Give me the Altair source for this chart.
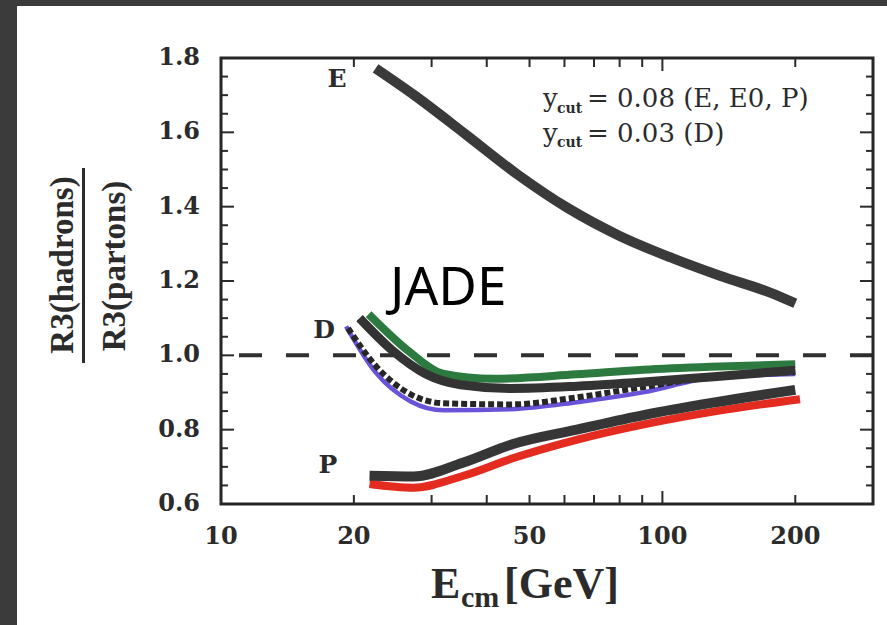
import altair as alt
import pandas as pd

W, H = 652, 446
INK = "#2b2b2b"

# ---------------- data ----------------
e_x = [22.4, 27.4, 35.8, 46.8, 61.1, 79.8, 104.0, 135.0, 176.0, 200.0]
e_y = [1.772, 1.700, 1.595, 1.488, 1.396, 1.322, 1.264, 1.214, 1.168, 1.140]

d_black_x = [20.6, 24.4, 29.1, 34.9, 45.3, 64.0, 90.7, 128.6, 200.0]
d_black_y = [1.100, 1.014, 0.950, 0.921, 0.911, 0.917, 0.928, 0.942, 0.960]

d_green_x = [21.6, 26.7, 31.8, 41.4, 63.8, 90.5, 128.5, 200.0]
d_green_y = [1.111, 1.010, 0.951, 0.937, 0.949, 0.961, 0.969, 0.976]

d_dot_x = [19.4, 22.4, 26.9, 32.0, 45.4, 64.1, 90.8, 124.1, 200.0]
d_dot_y = [1.073, 0.972, 0.895, 0.871, 0.868, 0.887, 0.915, 0.939, 0.955]

d_blue_x = [19.2, 22.4, 26.9, 32.0, 45.4, 64.1, 90.9, 128.6, 200.0]
d_blue_y = [1.078, 0.954, 0.876, 0.852, 0.855, 0.874, 0.901, 0.939, 0.950]

p_black_x = [21.7, 27.3, 35.3, 45.7, 64.4, 91.2, 129.2, 200.0]
p_black_y = [0.676, 0.674, 0.711, 0.761, 0.801, 0.840, 0.872, 0.907]

p_red_x = [21.7, 27.3, 35.4, 45.8, 64.5, 91.4, 129.4, 205.0]
p_red_y = [0.654, 0.644, 0.676, 0.723, 0.774, 0.815, 0.848, 0.882]

ref_level = [1.0]

x_labels = [10, 20, 50, 100, 200]
y_labels = [0.6, 0.8, 1.0, 1.2, 1.4, 1.6, 1.8]
x_ticks = [20, 30, 40, 50, 60, 70, 80, 90, 200]
x_ticks_long = [100]
y_ticks_major = [0.8, 1.0, 1.2, 1.4, 1.6]
y_ticks_minor = [0.65, 0.7, 0.75, 0.85, 0.9, 0.95, 1.05, 1.1, 1.15, 1.25,
                 1.3, 1.35, 1.45, 1.5, 1.55, 1.65, 1.7, 1.75]

# ---------------- scales ----------------
XS = alt.Scale(type="log", domain=[10, 300], nice=False)
YS = alt.Scale(domain=[0.6, 1.8], nice=False, zero=False)

one = pd.DataFrame({"k": [0]})


def df(xs, ys):
    return pd.DataFrame({"E": xs, "R": ys})


def curve(xs, ys, color, width, dash=None, cap="butt"):
    kw = dict(interpolate="monotone", color=color, strokeWidth=width,
              strokeCap=cap, strokeJoin="round")
    if dash:
        kw["strokeDash"] = dash
    return alt.Chart(df(xs, ys)).mark_line(**kw).encode(
        x=alt.X("E:Q", scale=XS, axis=None),
        y=alt.Y("R:Q", scale=YS, axis=None),
    )


def yticks(vals, length, right=False):
    x0 = W if right else 0
    x1 = W - length if right else length
    return alt.Chart(pd.DataFrame({"v": vals})).mark_rule(color=INK, strokeWidth=2).encode(
        y=alt.Y("v:Q", scale=YS, axis=None), x=alt.value(x0), x2=alt.value(x1))


def xticks(vals, length, top=False):
    y0 = 0 if top else H
    y1 = length if top else H - length
    return alt.Chart(pd.DataFrame({"v": vals})).mark_rule(color=INK, strokeWidth=2).encode(
        x=alt.X("v:Q", scale=XS, axis=None), y=alt.value(y0), y2=alt.value(y1))


def label(text, x, y, size, font="DejaVu Serif", weight="bold", align="left",
          baseline="alphabetic", angle=0, color=INK):
    kw = dict(text=text, font=font, fontSize=size, fontWeight=weight,
              align=align, baseline=baseline, color=color)
    if angle:
        kw["angle"] = angle
    return alt.Chart(one).mark_text(**kw).encode(x=alt.value(x), y=alt.value(y))


tick_font = dict(font="DejaVu Serif", fontWeight="bold", fontSize=24, color=INK)

y_tick_labels = alt.Chart(pd.DataFrame({"v": y_labels})).mark_text(
    align="right", baseline="middle", **tick_font).encode(
    y=alt.Y("v:Q", scale=YS, axis=None), x=alt.value(-21),
    text=alt.Text("v:Q", format=".1f"))

x_tick_labels = alt.Chart(pd.DataFrame({"v": x_labels})).mark_text(
    align="center", baseline="top", **tick_font).encode(
    x=alt.X("v:Q", scale=XS, axis=None), y=alt.value(H + 21),
    text=alt.Text("v:Q", format="d"))

paper = alt.Chart(one).mark_rect(color="white").encode(
    x=alt.value(-204), x2=alt.value(666), y=alt.value(-52), y2=alt.value(567))

dashed = alt.Chart(pd.DataFrame({"R": ref_level})).mark_rule(
    color="#303030", strokeWidth=4, strokeDash=[23, 24]).encode(
    y=alt.Y("R:Q", scale=YS, axis=None))

frame = alt.Chart(one).mark_rect(fillOpacity=0, stroke="#262626", strokeWidth=3).encode(
    x=alt.value(0), x2=alt.value(W), y=alt.value(0), y2=alt.value(H))

jade_box = alt.Chart(one).mark_rect(color="white").encode(
    x=alt.value(157), x2=alt.value(297), y=alt.value(197), y2=alt.value(259))

layers = [
    paper,
    dashed,
    yticks(y_ticks_minor, 7), yticks(y_ticks_major, 13),
    yticks(y_ticks_minor, 7, right=True), yticks(y_ticks_major, 13, right=True),
    xticks(x_ticks, 9), xticks(x_ticks_long, 13),
    xticks(x_ticks, 9, top=True), xticks(x_ticks_long, 13, top=True),
    curve(d_blue_x, d_blue_y, "#6a52d9", 4.5),
    curve(d_dot_x, d_dot_y, "#262626", 6, dash=[6, 3]),
    curve(d_green_x, d_green_y, "#2c7a40", 8),
    curve(d_black_x, d_black_y, "#333333", 9),
    curve(p_red_x, p_red_y, "#e42b20", 8),
    curve(p_black_x, p_black_y, "#363636", 10),
    curve(e_x, e_y, "#3a3a3a", 10),
    frame,
    y_tick_labels,
    x_tick_labels,
    # curve labels
    label("E", 116, 29, 25, align="center"),
    label("D", 103, 280, 25, align="center"),
    label("P", 107, 415, 25, align="center"),
    # y_cut annotation
    label("y", 322, 49, 26, weight="normal"),
    label("cut", 336, 55, 14),
    label("= 0.08 (E, E0, P)", 366, 49, 26, weight="normal"),
    label("y", 322, 84, 26, weight="normal"),
    label("cut", 336, 89, 14),
    label("= 0.03 (D)", 366, 84, 26, weight="normal"),
    # x title
    label("E", 210, 540, 44, font="Liberation Serif"),
    label("cm", 240, 549, 30, font="Liberation Serif"),
    label("[GeV]", 283, 540, 44, font="Liberation Serif"),
    # y title (fraction)
    label("R3(hadrons)", -158, 207, 33, font="Liberation Serif", align="center",
          baseline="middle", angle=270),
    label("R3(partons)", -106, 208, 33, font="Liberation Serif", align="center",
          baseline="middle", angle=270),
    alt.Chart(one).mark_rule(color=INK, strokeWidth=3).encode(
        x=alt.value(-137.5), y=alt.value(110), y2=alt.value(305)),
    # JADE overlay
    jade_box,
    label("JADE", 169, 247, 53, font="Noto Sans", weight="normal", color="black"),
]

chart = alt.layer(*layers).properties(
    width=W, height=H,
    autosize=alt.AutoSizeParams(type="none"),
    padding={"left": 221, "top": 58, "right": 14, "bottom": 121},
    background="#3b3b3b",
).configure_view(strokeWidth=0)

chart.save("out.html", embed_options={"renderer": "svg", "actions": False})
